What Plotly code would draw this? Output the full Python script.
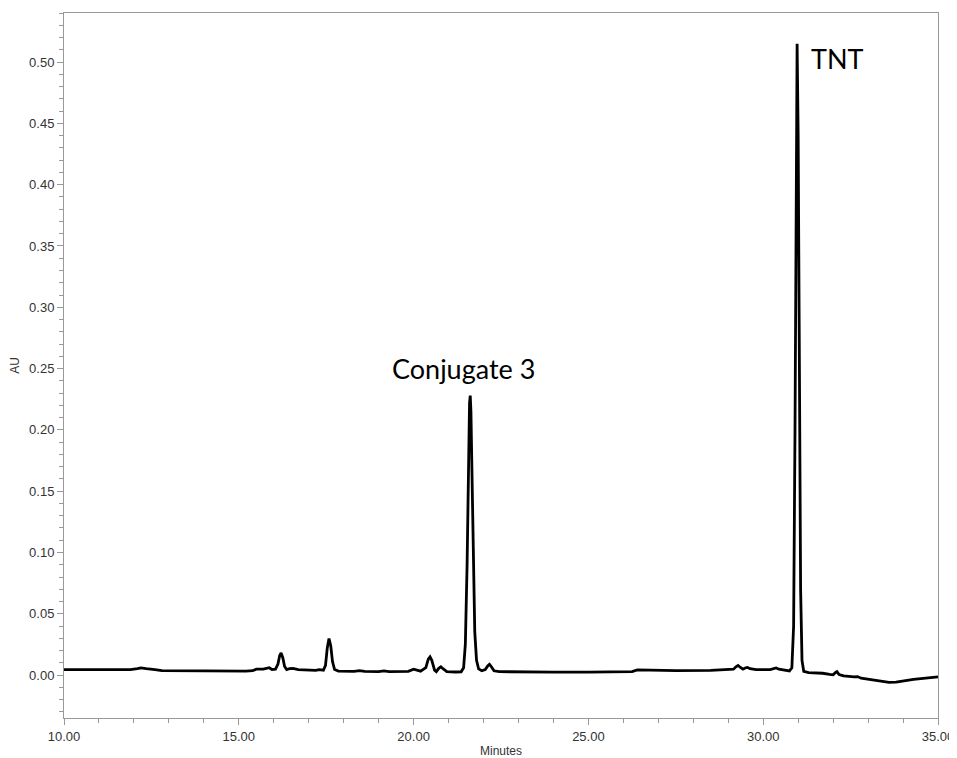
import plotly.graph_objects as go

# Retention time (minutes) and absorbance (AU)
minutes = [
    10.0, 11.9, 12.1, 12.2, 12.35, 12.5, 12.6, 12.8, 13.5, 14.5, 15.2, 15.4, 15.5, 15.7, 15.8, 15.87,
    15.95, 16.05, 16.12, 16.17, 16.21, 16.26, 16.31, 16.37, 16.45, 16.55, 16.7, 17.0, 17.2, 17.3,
    17.42, 17.48, 17.53, 17.58, 17.63, 17.68, 17.74, 17.85, 18.3, 18.45, 18.6, 19.0, 19.15, 19.3,
    19.85, 20.0, 20.1, 20.2, 20.35, 20.42, 20.47, 20.52, 20.6, 20.65, 20.72, 20.78, 20.85, 20.95,
    21.2, 21.36, 21.43, 21.48, 21.53, 21.57, 21.6, 21.62, 21.64, 21.67, 21.71, 21.75, 21.8, 21.86,
    21.95, 22.05, 22.12, 22.17, 22.22, 22.3, 22.45, 23.0, 24.0, 25.0, 26.0, 26.25, 26.4, 26.6,
    27.5, 28.5, 29.0, 29.15, 29.22, 29.28, 29.35, 29.42, 29.5, 29.55, 29.62, 29.8, 30.2, 30.3,
    30.37, 30.45, 30.6, 30.75, 30.82, 30.87, 30.91, 30.94, 30.97, 31.0, 31.03, 31.07, 31.11, 31.16,
    31.3, 31.6, 31.7, 31.9, 32.0, 32.07, 32.11, 32.17, 32.3, 32.6, 32.7, 32.8, 33.2, 33.6, 33.8,
    34.3, 35.0,
]
au = [
    0.0045, 0.0045, 0.0052, 0.0058, 0.0052, 0.005, 0.0045, 0.0037, 0.0035, 0.0033, 0.0032, 0.0036,
    0.0048, 0.0048, 0.0058, 0.006, 0.0046, 0.0048, 0.009, 0.016, 0.018, 0.014, 0.007, 0.0045,
    0.0052, 0.0055, 0.0045, 0.0038, 0.0038, 0.0045, 0.004, 0.008, 0.022, 0.0298, 0.024, 0.011,
    0.0045, 0.0033, 0.003, 0.0036, 0.003, 0.0029, 0.0035, 0.0029, 0.003, 0.0048, 0.0042, 0.0032,
    0.006, 0.013, 0.0149, 0.012, 0.004, 0.0028, 0.0055, 0.0068, 0.005, 0.0028, 0.0025, 0.0027,
    0.006, 0.025, 0.09, 0.18, 0.222, 0.228, 0.215, 0.165, 0.085, 0.035, 0.012, 0.005, 0.0035,
    0.0045, 0.0075, 0.0088, 0.007, 0.0035, 0.0028, 0.0025, 0.0024, 0.0024, 0.0024, 0.0028, 0.0042,
    0.004, 0.0037, 0.0038, 0.0045, 0.0048, 0.0068, 0.0078, 0.0062, 0.0048, 0.006, 0.0063, 0.0052,
    0.0045, 0.0045, 0.0052, 0.0058, 0.0048, 0.0038, 0.0034, 0.006, 0.04, 0.2, 0.42, 0.515, 0.44,
    0.26, 0.07, 0.012, 0.003, 0.002, 0.0018, 0.0015, 0.0005, 0.0003, 0.0022, 0.0028, 0.0005,
    -0.0007, -0.0015, -0.0012, -0.0025, -0.004, -0.006, -0.0058, -0.0035, -0.0015,
]

peak_labels = ["Conjugate 3", "TNT"]
peak_label_x = [21.43, 32.12]
peak_label_y = [0.250, 0.503]

fig = go.Figure()
fig.add_trace(go.Scatter(
    x=minutes, y=au, mode="lines",
    line=dict(color="black", width=2.8),
    showlegend=False, hoverinfo="skip",
))

for txt, lx, ly in zip(peak_labels, peak_label_x, peak_label_y):
    fig.add_annotation(
        x=lx, y=ly, text=txt, showarrow=False,
        font=dict(family="Lato, Open Sans, sans-serif", size=27, color="black"),
        xanchor="center", yanchor="middle",
    )

axis_font = dict(family="Liberation Sans, Arial, sans-serif", size=13, color="#333")

fig.update_xaxes(
    range=[10, 35], dtick=5, tick0=10, tickformat=".2f",
    ticks="outside", ticklen=6, tickcolor="#999", tickfont=axis_font,
    minor=dict(dtick=1, ticks="outside", ticklen=4, tickcolor="#999"),
    showline=True, linecolor="#999", linewidth=1, mirror=True,
    showgrid=False, zeroline=False, automargin=False,
    title=dict(text="Minutes", font=dict(family="Liberation Sans, Arial, sans-serif", size=12, color="#333"), standoff=9),
)
fig.update_yaxes(
    range=[-0.035, 0.54], dtick=0.05, tick0=0, tickformat=".2f",
    ticks="outside", ticklen=6, tickcolor="#999", tickfont=axis_font,
    minor=dict(dtick=0.01, ticks="outside", ticklen=4, tickcolor="#999"),
    showline=True, linecolor="#999", linewidth=1, mirror=True,
    showgrid=False, zeroline=False, automargin=False,
    title=dict(text="AU", font=dict(family="Liberation Sans, Arial, sans-serif", size=12, color="#333"), standoff=6),
)

# The page body adds an 8px offset, so the figure is sized to fit inside the window
fig.update_layout(
    width=949, height=750, autosize=False,
    margin=dict(l=56, r=19, t=5, b=40),
    plot_bgcolor="white", paper_bgcolor="white",
)

fig.write_html("out.html")
